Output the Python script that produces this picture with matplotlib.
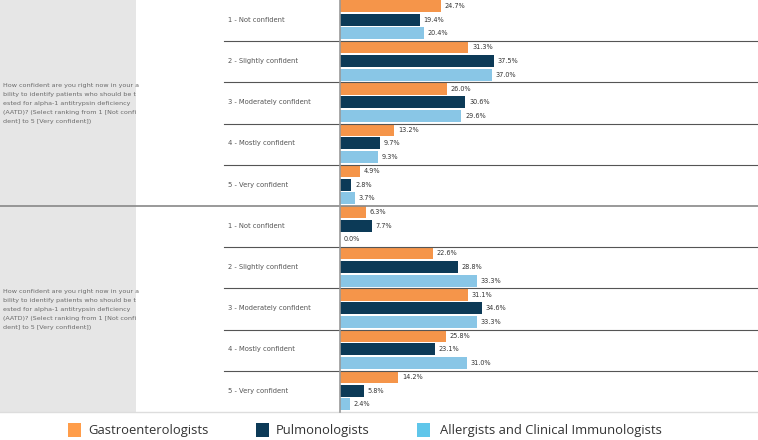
import matplotlib
matplotlib.use("Agg")
import matplotlib.pyplot as plt
from matplotlib.patches import Rectangle
import matplotlib.transforms as mtransforms

categories = ["1 - Not confident", "2 - Slightly confident", "3 - Moderately confident",
              "4 - Mostly confident", "5 - Very confident"]
question_lines = ["How confident are you right now in your a",
                  "bility to identify patients who should be t",
                  "ested for alpha-1 antitrypsin deficiency",
                  "(AATD)? (Select ranking from 1 [Not confi",
                  "dent] to 5 [Very confident])"]
series_names = ["Gastroenterologists", "Pulmonologists", "Allergists and Clinical Immunologists"]

g1_gastro = [24.7, 31.3, 26.0, 13.2, 4.9]
g1_pulmo = [19.4, 37.5, 30.6, 9.7, 2.8]
g1_allerg = [20.4, 37.0, 29.6, 9.3, 3.7]
g2_gastro = [6.3, 22.6, 31.1, 25.8, 14.2]
g2_pulmo = [7.7, 28.8, 34.6, 23.1, 5.8]
g2_allerg = [0.0, 33.3, 33.3, 31.0, 2.4]

groups = [[g1_gastro, g1_pulmo, g1_allerg], [g2_gastro, g2_pulmo, g2_allerg]]
bar_colors = ["#F5954A", "#0C3A57", "#89C6E6"]
legend_colors = ["#FF9D4A", "#0C3A57", "#5FC6EA"]

W, H = 758, 440
fig = plt.figure(figsize=(W / 100, H / 100), dpi=100)
fig.patch.set_facecolor("white")

x0_px, x1_px = 340, 758
bottom_px = 412
ax = fig.add_axes([x0_px / W, (H - bottom_px) / H, (x1_px - x0_px) / W, bottom_px / H])
ax.set_xlim(0, (x1_px - x0_px) / 4.1)
ax.set_ylim(10, 0)
ax.axis("off")

# gray question panels
for gi in range(2):
    top = gi * bottom_px / 2
    fig.add_artist(Rectangle((0, 1 - (top + bottom_px / 2) / H), 136 / W, (bottom_px / 2) / H,
                             transform=fig.transFigure, facecolor="#E6E6E6", edgecolor="none", zorder=0))

offsets = [0.15, 0.48, 0.81]
bh = 0.29
for gi, grp in enumerate(groups):
    for si, vals in enumerate(grp):
        ys = [gi * 5 + ci + offsets[si] for ci in range(5)]
        ax.barh(ys, vals, height=bh, color=bar_colors[si], zorder=2)
        for y, v in zip(ys, vals):
            ax.text(v + 0.9, y, f"{v:.1f}%", va="center", ha="left",
                    fontsize=4.7, color="#333333")

blend = mtransforms.blended_transform_factory(ax.transAxes, ax.transData)
left_cat = (224 - x0_px) / (x1_px - x0_px)
left_all = -x0_px / (x1_px - x0_px)
for gi in range(2):
    for ci in range(5):
        k = gi * 5 + ci
        ax.text(left_cat + 0.01, k + 0.48, categories[ci], transform=blend,
                fontsize=4.9, color="#555555", va="center", ha="left")
        if ci < 4:
            ax.plot([left_cat, 1], [k + 1, k + 1], transform=blend, color="#555555",
                    lw=0.8, clip_on=False, zorder=3)
    qy = gi * 5 + 2.5
    ax.text((3 - x0_px) / (x1_px - x0_px), qy, "\n".join(question_lines), transform=blend,
            fontsize=4.55, color="#6a6a6a", va="center", ha="left", linespacing=2.0)

ax.plot([left_all, 1], [5, 5], transform=blend, color="#888888", lw=1.2, clip_on=False, zorder=3)
ax.plot([left_all, 1], [10, 10], transform=blend, color="#dddddd", lw=1.0, clip_on=False, zorder=3)
ax.plot([0, 0], [0, 10], color="#999999", lw=1.2, zorder=4, clip_on=False)

# legend
leg_y = 430
items = [(68, 88), (256, 276), (417, 440)]
for (sx, tx), name, col in zip(items, series_names, legend_colors):
    fig.add_artist(Rectangle((sx / W, 1 - (leg_y + 7) / H), 13 / W, 14 / H,
                             transform=fig.transFigure, facecolor=col, edgecolor="none"))
    fig.text(tx / W, 1 - leg_y / H, name, fontsize=9.4, color="#333333",
             family="Open Sans", va="center", ha="left")

fig.savefig("out.png", dpi=100)
